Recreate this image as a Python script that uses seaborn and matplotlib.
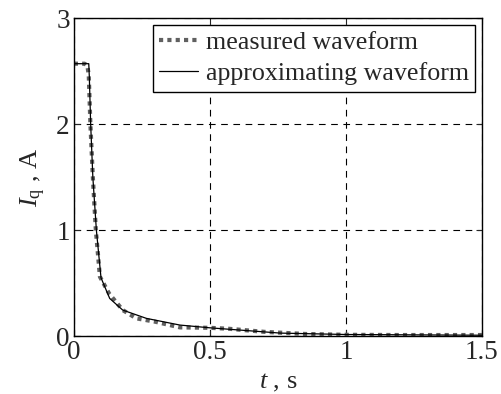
import matplotlib
matplotlib.use('Agg')
import matplotlib.pyplot as plt
import seaborn as sns
import pandas as pd

# measured current waveform
t_meas = [0, 0.02, 0.04, 0.05, 0.055, 0.061, 0.07, 0.081, 0.096, 0.13, 0.18, 0.23, 0.30, 0.39, 0.5, 0.57, 0.70, 0.85, 1.0, 1.2, 1.5]
i_meas = [2.57, 2.57, 2.57, 2.55, 2.46, 2.0, 1.5, 1.0, 0.56, 0.40, 0.245, 0.167, 0.135, 0.082, 0.078, 0.069, 0.04, 0.02, 0.012, 0.01, 0.01]

# approximating waveform
t_appr = [0, 0.055, 0.057, 0.062, 0.07, 0.083, 0.10, 0.132, 0.18, 0.267, 0.39, 0.5, 0.76, 1.0, 1.5]
i_appr = [2.57, 2.57, 2.45, 2.0, 1.5, 1.0, 0.55, 0.355, 0.245, 0.167, 0.104, 0.078, 0.028, 0.015, 0.008]

meas = pd.DataFrame({'t': t_meas, 'I': i_meas})
appr = pd.DataFrame({'t': t_appr, 'I': i_appr})

sns.set_style('ticks')
plt.rcParams['font.family'] = ['Liberation Serif', 'DejaVu Serif']
plt.rcParams['mathtext.fontset'] = 'custom'
plt.rcParams['mathtext.rm'] = 'Liberation Serif'
plt.rcParams['mathtext.it'] = 'Liberation Serif:italic'

fig = plt.figure(figsize=(5.02, 3.94), dpi=100)
ax = fig.add_axes([0.147, 0.147, 0.813, 0.807])

sns.lineplot(data=meas, x='t', y='I', ax=ax, color='#606060', lw=3,
             linestyle=(0, (1, 1)), label='measured waveform')
sns.lineplot(data=appr, x='t', y='I', ax=ax, color='black', lw=0.9,
             label='approximating waveform')

ax.set_xlim(0, 1.5)
ax.set_ylim(0, 3)
ax.set_xticks([0, 0.5, 1, 1.5])
ax.set_xticklabels(['0', '0.5', '1', '1.5'])
ax.set_yticks([0, 1, 2, 3])
ax.grid(True, color='black', linestyle=(0, (6, 5)), linewidth=0.8)
ax.tick_params(direction='in', top=True, right=True, labelsize=19.5, length=4, width=0.8, pad=3)
for s in ax.spines.values():
    s.set_color('black')
    s.set_linewidth(1.0)

ax.set_xlabel(r'$\mathit{t}$ , s', fontsize=19, labelpad=5)
ax.set_ylabel(r'$\mathit{I}_{\mathrm{q}}$ , A', fontsize=19, labelpad=6)

leg = ax.legend(loc='upper right', fontsize=18.7, frameon=True, fancybox=False,
                framealpha=1, edgecolor='black', handlelength=1.5,
                borderpad=0.25, labelspacing=0.3, handletextpad=0.3,
                borderaxespad=0.25)
leg.get_frame().set_linewidth(1.0)

fig.savefig('out.png', dpi=100)
